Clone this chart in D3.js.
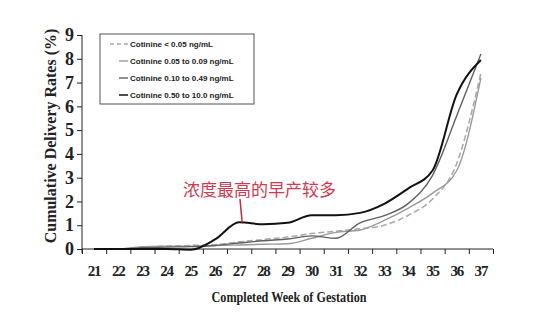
<!DOCTYPE html>
<html>
<head>
<meta charset="utf-8">
<script src="https://cdn.jsdelivr.net/npm/d3@7"></script>
<style>
  body { margin: 0; background: #fff; }
  svg { display: block; }
  .tick line, .domain { stroke: #222; }
</style>
</head>
<body>
<svg id="chart" width="554" height="315"></svg>
<script>
const weeks = [21, 22, 23, 24, 25, 26, 27, 28, 29, 30, 31, 32, 33, 34, 35, 36, 37];

const seriesNames = [
    "Cotinine < 0.05 ng/mL",
    "Cotinine 0.05 to 0.09 ng/mL",
    "Cotinine 0.10 to 0.49 ng/mL",
    "Cotinine 0.50 to 10.0 ng/mL"
];

const lowest = [0, 0, 0.08, 0.12, 0.15, 0.18, 0.3, 0.4, 0.5, 0.65, 0.75, 0.85, 1.0, 1.42, 2.1, 3.6, 7.4];
const low = [0, 0, 0.1, 0.12, 0.12, 0.14, 0.17, 0.2, 0.22, 0.45, 0.7, 0.8, 1.2, 1.72, 2.35, 3.3, 7.2];
const mid = [0, 0, 0.05, 0.08, 0.1, 0.15, 0.25, 0.35, 0.42, 0.55, 0.45, 1.1, 1.4, 1.92, 3.1, 5.6, 8.2];
const high = [0, 0, 0, 0, -0.03, 0.4, 1.12, 1.04, 1.1, 1.42, 1.42, 1.52, 1.9, 2.55, 3.3, 6.5, 7.95];

const yTicks = [0, 1, 2, 3, 4, 5, 6, 7, 8, 9];
const annotation = "浓度最高的早产较多";

const svg = d3.select("#chart");

const x = d3.scaleBand().domain(weeks).range([82, 493]);
const xEdge = d3.scaleLinear().domain([20.5, 37.5]).range([82, 493]);
const y = d3.scaleLinear().domain([0, 9]).range([249, 35]);
const cx = w => x(w) + x.bandwidth() / 2;

const styles = [
    { color: "#a8a8a8", width: 1.5, dash: "6,3" },
    { color: "#9a9a9a", width: 1.4, dash: null },
    { color: "#606060", width: 1.4, dash: null },
    { color: "#111", width: 2, dash: null }
];
const data = [lowest, low, mid, high];

// y axis
const yAxis = svg.append("g")
    .attr("transform", "translate(82,0)")
    .call(d3.axisLeft(y).tickValues(yTicks).tickSize(5).tickSizeOuter(0).tickPadding(3));
yAxis.selectAll("text")
    .attr("font-family", "Liberation Serif")
    .attr("font-weight", "bold")
    .attr("font-size", 18)
    .attr("fill", "#222");
yAxis.select(".domain").attr("d", "M0,35V253");

// x axis: ticks at band edges, labels at centres
const xAxis = svg.append("g")
    .attr("transform", "translate(0,249)")
    .call(d3.axisBottom(xEdge).tickValues(d3.range(20.5, 38, 1)).tickSize(5).tickSizeOuter(0).tickFormat(""));
xAxis.select(".domain").attr("d", "M82,0H493");

svg.append("g").selectAll("text")
    .data(weeks)
    .join("text")
    .attr("x", d => cx(d))
    .attr("y", 276)
    .attr("text-anchor", "middle")
    .attr("font-family", "Liberation Serif")
    .attr("font-weight", "bold")
    .attr("font-size", 15)
    .attr("letter-spacing", "-1.2")
    .attr("fill", "#222")
    .text(d => d);

svg.append("text")
    .attr("x", 289)
    .attr("y", 302)
    .attr("text-anchor", "middle")
    .attr("font-family", "Liberation Serif")
    .attr("font-weight", "bold")
    .attr("font-size", 15)
    .attr("textLength", 155)
    .attr("lengthAdjust", "spacingAndGlyphs")
    .attr("fill", "#222")
    .text("Completed Week of Gestation");

svg.append("text")
    .attr("transform", "translate(56,136) rotate(-90)")
    .attr("text-anchor", "middle")
    .attr("font-family", "Liberation Serif")
    .attr("font-weight", "bold")
    .attr("font-size", 16)
    .attr("fill", "#222")
    .text("Cumulative Delivery Rates (%)");

// lines
const line = d3.line()
    .x((d, i) => cx(weeks[i]))
    .y(d => y(d))
    .curve(d3.curveMonotoneX);

svg.append("g").selectAll("path")
    .data(data)
    .join("path")
    .attr("d", line)
    .attr("fill", "none")
    .attr("stroke", (d, i) => styles[i].color)
    .attr("stroke-width", (d, i) => styles[i].width)
    .attr("stroke-dasharray", (d, i) => styles[i].dash);

// legend
const legend = svg.append("g");
legend.append("rect")
    .attr("x", 100).attr("y", 34)
    .attr("width", 154).attr("height", 70)
    .attr("fill", "#fff")
    .attr("stroke", "#555")
    .attr("stroke-width", 1);

const rows = legend.selectAll("g.row")
    .data(seriesNames)
    .join("g")
    .attr("class", "row")
    .attr("transform", (d, i) => `translate(0,${44 + i * 17})`);

rows.append("line")
    .attr("x1", (d, i) => styles[i].dash ? 110 : 119)
    .attr("x2", 128)
    .attr("stroke", (d, i) => styles[i].color)
    .attr("stroke-width", (d, i) => Math.min(styles[i].width, 1.5))
    .attr("stroke-dasharray", (d, i) => styles[i].dash ? "4,3" : null);

rows.append("text")
    .attr("x", 130)
    .attr("dy", "0.35em")
    .attr("font-family", "Liberation Sans")
    .attr("font-weight", "bold")
    .attr("font-size", 8)
    .attr("fill", "#222")
    .text(d => d);

// annotation
const peakX = cx(27) + 3, peakY = y(high[6]);
svg.append("line")
    .attr("x1", 240).attr("y1", 199)
    .attr("x2", peakX).attr("y2", peakY)
    .attr("stroke", "#c8283f")
    .attr("stroke-width", 1.5);

svg.append("text")
    .attr("x", 183)
    .attr("y", 196)
    .attr("font-family", "Noto Sans CJK SC")
    .attr("font-size", 17)
    .attr("fill", "#d23a50")
    .text(annotation);
</script>
</body>
</html>
